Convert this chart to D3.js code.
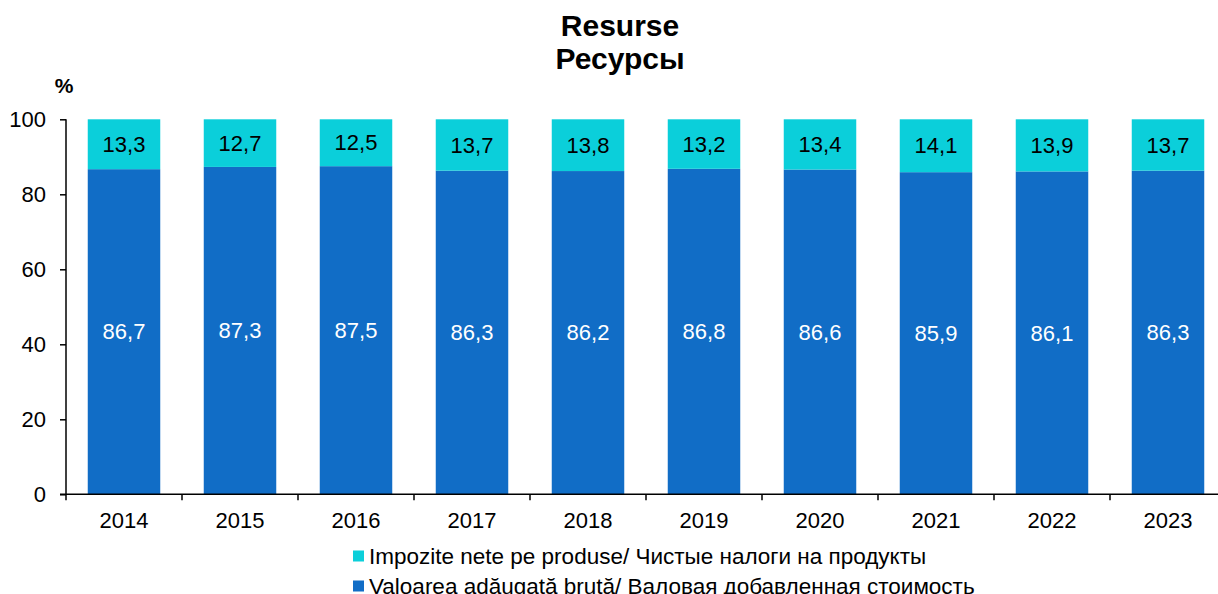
<!DOCTYPE html>
<html>
<head>
<meta charset="utf-8">
<script src="https://cdn.jsdelivr.net/npm/d3@7"></script>
<style>
  html, body { margin: 0; padding: 0; background: #fff; }
  svg { display: block; font-family: "Liberation Sans", Arial, sans-serif; }
</style>
</head>
<body>
<svg id="chart" width="1218" height="594"></svg>
<script>
const years = ["2014","2015","2016","2017","2018","2019","2020","2021","2022","2023"];
const gva   = [86.7, 87.3, 87.5, 86.3, 86.2, 86.8, 86.6, 85.9, 86.1, 86.3];
const taxes = [13.3, 12.7, 12.5, 13.7, 13.8, 13.2, 13.4, 14.1, 13.9, 13.7];
const yTicks = [0, 20, 40, 60, 80, 100];
const seriesNames = [
  "Impozite nete pe produse/ Чистые налоги на продукты",
  "Valoarea adăugată brută/ Валовая добавленная стоимость"
];
const colors = { gva: "#116DC6", taxes: "#0BCFDA" };

const svg = d3.select("#chart");
const x = d3.scaleBand().domain(years).range([66, 1226]).paddingInner(0.375).paddingOuter(0.1875);
const y = d3.scaleLinear().domain([0, 100]).range([494.3, 119.3]);
const fmt = v => v.toFixed(1).replace(".", ",");

// title
const title = svg.append("text").attr("x", 620).attr("text-anchor", "middle")
  .attr("font-weight", "bold").attr("font-size", "30px").attr("fill", "#000");
title.append("tspan").attr("x", 620).attr("y", 36).text("Resurse");
title.append("tspan").attr("x", 620).attr("y", 69).text("Ресурсы");

svg.append("text").attr("x", 64).attr("y", 93).attr("text-anchor", "middle")
  .attr("font-weight", "bold").attr("font-size", "21px").text("%");

// bars
const g = svg.append("g");
years.forEach((yr, i) => {
  g.append("rect").attr("x", x(yr)).attr("width", x.bandwidth())
    .attr("y", y(gva[i])).attr("height", y(0) - y(gva[i])).attr("fill", colors.gva);
  g.append("rect").attr("x", x(yr)).attr("width", x.bandwidth())
    .attr("y", y(gva[i] + taxes[i])).attr("height", y(gva[i]) - y(gva[i] + taxes[i])).attr("fill", colors.taxes);
  g.append("text").attr("x", x(yr) + x.bandwidth() / 2).attr("y", (y(0) + y(gva[i])) / 2)
    .attr("dy", "0.35em").attr("text-anchor", "middle").attr("font-size", "22px").attr("fill", "#fff")
    .text(fmt(gva[i]));
  g.append("text").attr("x", x(yr) + x.bandwidth() / 2).attr("y", (y(gva[i]) + y(gva[i] + taxes[i])) / 2)
    .attr("dy", "0.35em").attr("text-anchor", "middle").attr("font-size", "22px").attr("fill", "#000")
    .text(fmt(taxes[i]));
});

// y axis
const yAxis = svg.append("g").attr("transform", "translate(66,0)")
  .call(d3.axisLeft(y).tickValues(yTicks).tickSize(6).tickPadding(14).tickFormat(d3.format("d")));
yAxis.select(".domain").attr("stroke", "#000").attr("stroke-width", 1.5).attr("d", `M0,${y(100)}V${y(0)}`);
yAxis.selectAll(".tick line").attr("stroke", "#000").attr("stroke-width", 1.5);
yAxis.selectAll(".tick text").attr("font-size", "22px").attr("fill", "#000").attr("font-family", "Liberation Sans, Arial, sans-serif");

// x axis
const xAxis = svg.append("g").attr("transform", `translate(0,${y(0)})`)
  .call(d3.axisBottom(x).tickSize(0).tickPadding(18));
xAxis.select(".domain").attr("stroke", "#000").attr("stroke-width", 1.5).attr("d", "M60,0H1226");
xAxis.selectAll(".tick text").attr("font-size", "22px").attr("fill", "#000").attr("font-family", "Liberation Sans, Arial, sans-serif");
// boundary ticks
const bounds = years.map(d => x(d) - x.step() * x.paddingInner() / 2);
bounds.push(x(years[years.length - 1]) + x.bandwidth() + x.step() * x.paddingInner() / 2);
xAxis.selectAll(".btick").data(bounds).enter().append("line").attr("class", "btick")
  .attr("x1", d => d).attr("x2", d => d).attr("y1", 0).attr("y2", 6)
  .attr("stroke", "#000").attr("stroke-width", 1.5);

// legend
const legend = svg.append("g").attr("transform", "translate(353,0)");
const items = [{ name: seriesNames[0], c: colors.taxes, y: 556 }, { name: seriesNames[1], c: colors.gva, y: 586 }];
items.forEach(it => {
  legend.append("rect").attr("x", 0).attr("y", it.y - 5.5).attr("width", 11).attr("height", 11).attr("fill", it.c);
  legend.append("text").attr("x", 16).attr("y", it.y).attr("dy", "0.35em").attr("font-size", "22.5px").attr("fill", "#000").text(it.name);
});
</script>
</body>
</html>
